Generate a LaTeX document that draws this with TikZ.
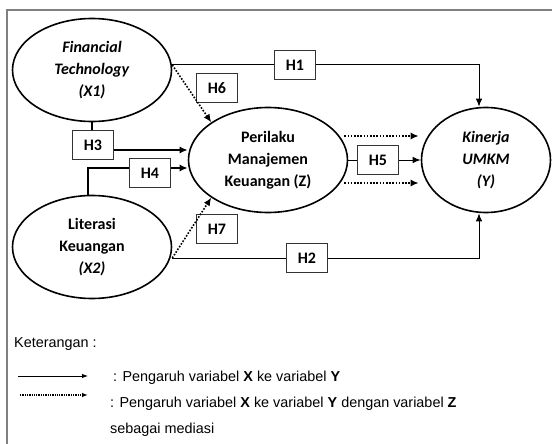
\documentclass[tikz,border=0pt]{standalone}
\usepackage{fontspec}
\setmainfont{Carlito}
\newfontfamily\legendfont{Liberation Sans}
\usetikzlibrary{positioning,shapes.geometric,arrows.meta}
\begin{document}
\begin{tikzpicture}[x=1pt,y=-1pt,
				var/.style={ellipse,draw,line width=1.6pt,inner sep=0pt,minimum width=159pt,minimum height=103pt,align=center,font=\fontsize{16}{22}\selectfont\bfseries},
				hyp/.style={rectangle,draw=black!80,line width=0.9pt,inner sep=0pt,minimum width=41pt,minimum height=29pt,font=\fontsize{16}{18}\selectfont\bfseries},
				plain/.style={line width=1pt},
				heavy/.style={line width=2pt},
				direct/.style={line width=1pt,-{Latex[length=8pt,width=6.5pt]}},
				heavyarrow/.style={line width=2pt,-{Latex[length=8pt,width=7pt]}},
				mediasi/.style={line width=1.6pt,dash pattern=on 1.6pt off 1.6pt,-{Latex[length=8pt,width=7pt]}},
				legend/.style={font=\legendfont\fontsize{14.4}{16}\selectfont,inner sep=0pt},
				legline/.style={line width=1pt,-{Latex[length=6pt,width=4.5pt]}},
				legdots/.style={line width=1.3pt,dash pattern=on 1.3pt off 1pt,-{Latex[length=6pt,width=4.5pt]}}]
\useasboundingbox (0,0) rectangle (552,444);
\draw[black!50,line width=1.5pt] (7,10) rectangle (570,460);
\node[var] (x1) at (92,70) {\textit{Financial}\\\textit{Technology}\\\textit{(X1)}};
\node[var] (x2) at (92,247) {Literasi\\Keuangan\\\textit{(X2)}};
\node[var,minimum height=105pt] (z) at (268,160) {Perilaku\\Manajemen\\Keuangan (Z)};
\node[var,minimum width=129pt,minimum height=105pt] (y) at (486,160) {\textit{Kinerja}\\\textit{UMKM}\\\textit{(Y)}};
\node[hyp] (h1) at (295,65) {H1};
\node[hyp] (h2) at (307,258) {H2};
\node[hyp] (h3) at (93,145) {H3};
\node[hyp] (h4) at (150,173) {H4};
\node[hyp] (h5) at (378,160) {H5};
\node[hyp] (h6) at (217,88) {H6};
\node[hyp] (h7) at (217,229) {H7};
\draw[plain] (h1.west -| x1.east) -- (h1.west);
\draw[direct] (h1.east) -| ([xshift=-7pt]y.north);
\draw[plain] (h2.west -| x2.east) -- (h2.west);
\draw[direct] (h2.east) -| ([xshift=-7pt]y.south);
\draw[heavy] (x1.south) -- (x1.south |- h3.north);
\draw[heavyarrow] ([yshift=-5pt]h3.east) coordinate (h3o) -- (h3o -| z.west);
\draw[heavy] ([xshift=-4pt]x2.north) |- ([yshift=5pt]h4.west);
\draw[heavyarrow] ([yshift=5pt]h4.east) coordinate (h4o) -- (h4o -| z.west);
\draw[mediasi] (h1.west -| x1.east) -- (z.north west);
\draw[mediasi] (h2.west -| x2.east) -- (z.south west);
\draw[plain] (z.east) -- (h5.west);
\draw[direct] (h5.east) -- (y.west);
\draw[mediasi] ([shift={(-4pt,24pt)}]z.east) -- ([shift={(-2pt,24pt)}]y.west);
\draw[mediasi] ([shift={(-4pt,-23pt)}]z.east) -- ([shift={(-2pt,-23pt)}]y.west);
\node[legend,anchor=base west] (ket) at (14,347) {Keterangan :};
\coordinate (s1) at (18,376);
\coordinate (e1) at (88,376);
\draw[legline] (s1) -- (e1);
\node[legend,anchor=base west] (t1) at (113,381) {: Pengaruh variabel \textbf{X} ke variabel \textbf{Y}};
\coordinate (s2) at (20,395);
\coordinate (e2) at (88,395);
\draw[legdots] (s2) -- (e2);
\node[legend,anchor=base west] (t2) at (110,407) {: Pengaruh variabel \textbf{X} ke variabel \textbf{Y} dengan variabel \textbf{Z}};
\node[legend,anchor=base west] (t3) at (110,433) {sebagai mediasi};
\end{tikzpicture}
\end{document}
